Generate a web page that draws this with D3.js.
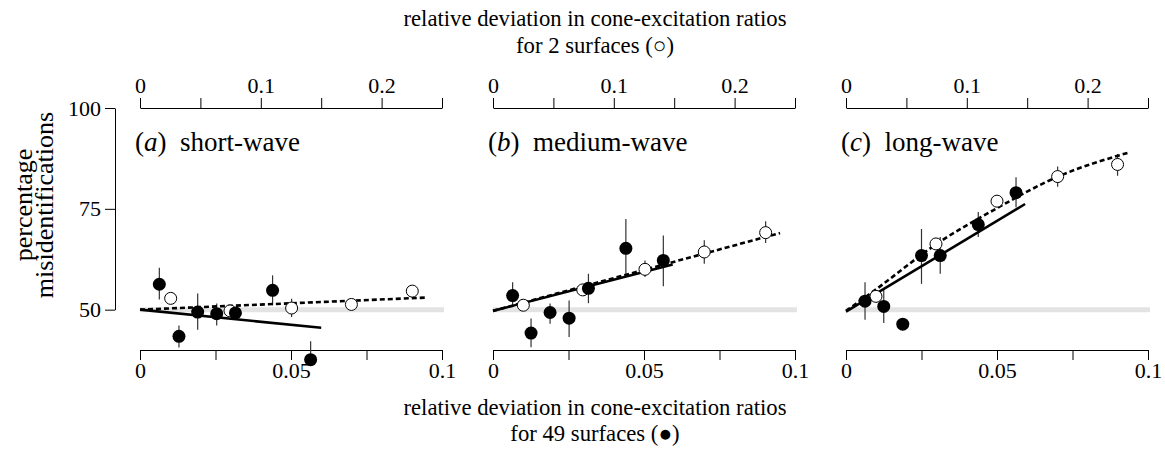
<!DOCTYPE html>
<html>
  <head>
    <script src="https://cdnjs.cloudflare.com/ajax/libs/d3/7.8.5/d3.min.js"></script>
<style>
  body { margin: 0; background: #fff; }
  svg text { font-family: "Liberation Serif", "Times New Roman", serif; fill: #000; }
  .axis path, .axis line { stroke: #000; stroke-width: 1; }
</style>
  </head>
  <body>
    <div id="vis"></div>
    <script type="text/javascript">

        const letters = ["a", "b", "c"];
        const panelNames = ["short-wave", "medium-wave", "long-wave"];

        // filled: 49 surfaces, bottom axis  [x, y, lo, hi]
        const filledA = [[0.0064, 56.3, 52.5, 60.4], [0.0129, 43.4, 40.6, 46.1], [0.0191, 49.4, 45.0, 54.0],
                         [0.0254, 49.0, 46.1, 51.5], [0.0316, 49.2, null, null], [0.0439, 54.8, 51.1, 58.5],
                         [0.0565, 37.6, 37.6, 42.2]];
        const filledB = [[0.0065, 53.5, 50.6, 56.8], [0.0126, 44.2, 40.7, 47.8], [0.0189, 49.3, 46.5, 51.5],
                         [0.0252, 47.9, 43.2, 52.3], [0.0316, 55.3, 51.6, 58.9], [0.0440, 65.2, 58.9, 72.5],
                         [0.0564, 62.2, 55.8, 68.4]];
        const filledC = [[0.0063, 52.1, 47.5, 56.8], [0.0125, 50.8, 46.7, 55.0], [0.0188, 46.4, null, null],
                         [0.0250, 63.4, 56.4, 70.0], [0.0312, 63.4, 58.9, 68.0], [0.0438, 71.1, 68.0, 74.2],
                         [0.0563, 79.0, 75.4, 82.8]];

        // open: 2 surfaces, top axis
        const openA = [[0.0254, 52.8, null, null], [0.0745, 49.7, null, null], [0.1255, 50.4, 48.2, 52.7],
                       [0.175, 51.3, null, null], [0.2254, 54.6, null, null]];
        const openB = [[0.0251, 51.1, null, null], [0.0743, 54.9, null, null], [0.1258, 60.0, 58.1, 62.2],
                       [0.1749, 64.3, 61.4, 67.2], [0.2257, 69.1, 66.5, 71.9]];
        const openC = [[0.0248, 53.3, null, null], [0.0745, 66.3, null, null], [0.125, 76.9, null, null],
                       [0.1752, 83.0, 80.5, 85.5], [0.2248, 86.0, 83.2, 88.6]];

        // fitted lines
        const solidA = [[0, 50.0], [0.06, 45.5]];
        const solidB = [[0, 49.7], [0.0595, 61.2]];
        const solidC = [[0, 49.5], [0.0593, 76.2]];
        const dashA = [[0, 50.0], [0.237, 53.0]];
        const dashB = [[0, 49.7], [0.2376, 69.0]];
        const dashC = [[0, 49.7], [0.022, 54.4], [0.077, 66.7], [0.124, 75.0], [0.174, 82.8], [0.2345, 89.0]];

        const filled = [filledA, filledB, filledC];
        const open = [openA, openB, openC];
        const solid = [solidA, solidB, solidC];
        const dashed = [dashA, dashB, dashC];

        const bottomTicks = [0, 0.025, 0.05, 0.075, 0.1];
        const bottomLabels = [0, 0.05, 0.1];
        const topTicks = [0, 0.05, 0.1, 0.15, 0.2, 0.25];
        const topLabels = [0, 0.1, 0.2];
        const yTicks = [50, 75, 100];

        const width = 1165, height = 450;
        const svg = d3.select("#vis").append("svg").attr("width", width).attr("height", height);

        const y = d3.scaleLinear().domain([40, 100]).range([350, 108]);
        const fmt = d => d === 0 ? "0" : String(d);
        const tickFont = "22px";

        // y axis
        const yAx = d3.scaleLinear().domain([50, 100]).range([y(50), y(100)]);
        const yg = svg.append("g").attr("class", "axis").attr("transform", "translate(115,0)")
            .call(d3.axisLeft(yAx).tickValues(yTicks).tickSize(10).tickSizeOuter(0).tickFormat(fmt).tickPadding(4));
        yg.selectAll("text").style("font-size", tickFont);

        svg.append("text").attr("transform", "translate(32,205) rotate(-90)")
            .attr("text-anchor", "middle").style("font-size", "26px").text("percentage");
        svg.append("text").attr("transform", "translate(53,205) rotate(-90)")
            .attr("text-anchor", "middle").style("font-size", "26px").text("misidentifications");

        const line = d3.line();

        letters.forEach((l, i) => {
            const x0 = 140 + i * 353, w = 302;
            const xb = d3.scaleLinear().domain([0, 0.1]).range([x0, x0 + w]);
            const xt = d3.scaleLinear().domain([0, 0.25]).range([x0, x0 + w]);
            const g = svg.append("g");

            // grey chance line
            g.append("line").attr("x1", xb(0)).attr("x2", xb(0.1) + 2).attr("y1", y(50)).attr("y2", y(50))
                .attr("stroke", "#e3e3e3").attr("stroke-width", 5);

            // axes
            const bg = g.append("g").attr("class", "axis").attr("transform", "translate(0," + y(40) + ")")
                .call(d3.axisBottom(xb).tickValues(bottomTicks).tickSize(10).tickSizeOuter(0)
                    .tickFormat(d => bottomLabels.includes(d) ? fmt(d) : "").tickPadding(2));
            bg.selectAll("text").style("font-size", tickFont);
            const tg = g.append("g").attr("class", "axis").attr("transform", "translate(0," + y(100) + ")")
                .call(d3.axisTop(xt).tickValues(topTicks).tickSize(10).tickSizeOuter(0)
                    .tickFormat(d => topLabels.includes(d) ? fmt(d) : "").tickPadding(5));
            tg.selectAll("text").style("font-size", tickFont);

            // panel label
            const t = g.append("text").attr("x", x0 - 5).attr("y", 151).style("font-size", "27px");
            t.append("tspan").text("(");
            t.append("tspan").style("font-style", "italic").text(l);
            t.append("tspan").text(")\u00a0\u00a0" + panelNames[i]);

            // error bars
            const bars = filled[i].map(d => ({x: xb(d[0]), lo: d[2], hi: d[3]}))
                .concat(open[i].map(d => ({x: xt(d[0]), lo: d[2], hi: d[3]})))
                .filter(d => d.lo !== null);
            g.selectAll("line.err").data(bars).join("line").attr("class", "err")
                .attr("x1", d => d.x).attr("x2", d => d.x)
                .attr("y1", d => y(d.lo)).attr("y2", d => y(d.hi))
                .attr("stroke", "#333").attr("stroke-width", 1.2);

            // fit lines
            g.append("path").attr("fill", "none").attr("stroke", "#000").attr("stroke-width", 2.6)
                .attr("d", line.x(d => xb(d[0])).y(d => y(d[1])).curve(d3.curveLinear)(solid[i]));
            g.append("path").attr("fill", "none").attr("stroke", "#000").attr("stroke-width", 2.6)
                .attr("stroke-dasharray", "5,3")
                .attr("d", line.x(d => xt(d[0])).y(d => y(d[1])).curve(d3.curveMonotoneX)(dashed[i]));

            // points
            g.selectAll("circle.open").data(open[i]).join("circle").attr("class", "open")
                .attr("cx", d => xt(d[0])).attr("cy", d => y(d[1])).attr("r", 6)
                .attr("fill", "#fff").attr("stroke", "#000").attr("stroke-width", 1);
            g.selectAll("circle.filled").data(filled[i]).join("circle").attr("class", "filled")
                .attr("cx", d => xb(d[0])).attr("cy", d => y(d[1])).attr("r", 6.5)
                .attr("fill", "#000");
        });

        // axis titles
        const titleFont = "22.7px";
        svg.append("text").attr("x", 595).attr("y", 26).attr("text-anchor", "middle")
            .style("font-size", titleFont).text("relative deviation in cone-excitation ratios");
        svg.append("text").attr("x", 595).attr("y", 53).attr("text-anchor", "middle")
            .style("font-size", titleFont).text("for 2 surfaces (\u25cb)");
        svg.append("text").attr("x", 595).attr("y", 415).attr("text-anchor", "middle")
            .style("font-size", titleFont).text("relative deviation in cone-excitation ratios");
        svg.append("text").attr("x", 595).attr("y", 441).attr("text-anchor", "middle")
            .style("font-size", titleFont).text("for 49 surfaces (\u25cf)");

    </script>
  </body>
</html>
